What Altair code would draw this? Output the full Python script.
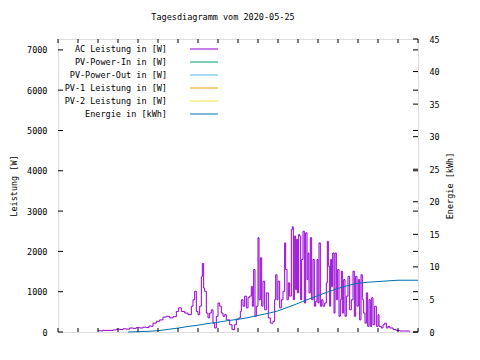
import altair as alt
import pandas as pd

# ---- data ----
ac_times = [
    "06:00", "06:15", "06:30", "06:45", "06:55", "07:05", "07:15", "07:25", "07:35", "07:45",
    "07:55", "08:05", "08:15", "08:25", "08:33", "08:40", "08:45", "08:55", "09:05", "09:15",
    "09:25", "09:35", "09:45", "09:55", "10:02", "10:10", "10:20", "10:30", "10:40", "10:45",
    "10:50", "10:55", "11:00", "11:05", "11:10", "11:13", "11:17", "11:20", "11:25", "11:30",
    "11:35", "11:40", "11:45", "11:50", "11:55", "12:00", "12:05", "12:10", "12:15", "12:20",
    "12:25", "12:35", "12:42", "12:50", "12:55", "13:03", "13:07", "13:10", "13:15", "13:20",
    "13:25", "13:30", "13:35", "13:40", "13:43", "13:47", "13:51", "13:55", "14:00", "14:03",
    "14:07", "14:11", "14:15", "14:20", "14:25", "14:31", "14:37", "14:45", "14:50", "14:53",
    "14:57", "15:00", "15:05", "15:10", "15:15", "15:20", "15:23", "15:27", "15:31", "15:35",
    "15:40", "15:43", "15:46", "15:49", "15:53", "15:56", "15:59", "16:02", "16:05", "16:08",
    "16:11", "16:15", "16:19", "16:23", "16:27", "16:30", "16:33", "16:37", "16:41", "16:45",
    "16:49", "16:53", "16:57", "17:00", "17:03", "17:07", "17:11", "17:15", "17:20", "17:25",
    "17:28", "17:31", "17:35", "17:38", "17:41", "17:44", "17:48", "17:51", "17:55", "17:59",
    "18:03", "18:07", "18:10", "18:13", "18:17", "18:21", "18:25", "18:30", "18:35", "18:40",
    "18:45", "18:49", "18:53", "18:57", "19:01", "19:05", "19:09", "19:13", "19:17", "19:21",
    "19:25", "19:29", "19:33", "19:37", "19:41", "19:45", "19:50", "19:55", "20:00", "20:03",
    "20:10", "20:15", "20:20", "20:25", "20:30", "20:35", "20:45", "20:55", "21:05", "21:20",
    "21:35",
]
ac_watts = [
    30, 40, 40, 50, 70, 60, 80, 70, 100, 90,
    110, 100, 120, 110, 150, 140, 220, 265, 300, 370,
    390, 350, 380, 510, 600, 510, 470, 430, 640, 800,
    1010, 510, 430, 640, 1370, 1700, 1090, 1010, 470, 350,
    470, 550, 220, 100, 390, 720, 640, 470, 390, 430,
    300, 180, 60, 180, 320, 350, 510, 800, 640, 890,
    600, 850, 890, 1130, 640, 1550, 390, 640, 2340, 800,
    1840, 640, 1260, 550, 970, 350, 220, 265, 800, 1420,
    800, 1260, 600, 800, 1010, 2210, 1550, 800, 1220, 890,
    2540, 2610, 800, 2380, 1050, 2300, 970, 2420, 2380, 800,
    1800, 2500, 720, 2460, 1300, 1960, 970, 2340, 800, 1800,
    640, 760, 1800, 720, 2210, 640, 800, 640, 720, 1220,
    2250, 1630, 640, 1800, 1130, 1960, 470, 1960, 800, 1550,
    390, 800, 1510, 470, 1300, 390, 890, 1380, 550, 800,
    1510, 390, 1380, 640, 1300, 300, 1420, 800, 470, 220,
    970, 140, 800, 140, 850, 180, 640, 140, 430, 140,
    100, 180, 220, 100, 140, 100, 60, 35, 25, 25,
    10,
]
energy_times = [
    "07:30", "08:30", "09:00", "09:30", "10:00", "10:30", "11:00", "11:30", "12:00", "12:30",
    "13:00", "13:30", "14:00", "14:30", "15:00", "15:30", "16:00", "16:30", "17:00", "17:30",
    "18:00", "18:30", "19:00", "19:30", "20:00", "20:30", "21:00", "22:00",
]
energy_kwh = [
    0.0, 0.1, 0.2, 0.4, 0.6, 0.85, 1.05, 1.3, 1.5, 1.75,
    1.95, 2.2, 2.55, 2.85, 3.25, 3.8, 4.4, 5.0, 5.6, 6.15,
    6.7, 7.15, 7.5, 7.65, 7.75, 7.85, 7.95, 7.95,
]
legend_labels = ["AC Leistung in [W]", "PV-Power-In in [W]", "PV-Power-Out in [W]",
                 "PV-1 Leistung in [W]", "PV-2 Leistung in [W]", "Energie in [kWh]"]
legend_colors = ["#9400d3", "#009e73", "#56b4e9", "#e69f00", "#f0e442", "#0072b2"]
x_tick_hours = list(range(4, 23))
x_label_hours = list(range(4, 23, 2))
power_ticks = [0, 1000, 2000, 3000, 4000, 5000, 6000, 7000]
energy_ticks = [0, 5, 10, 15, 20, 25, 30, 35, 40, 45]
title_text = "Tagesdiagramm vom 2020-05-25"


def to_hours(s):
    h, m = s.split(":")
    return int(h) + int(m) / 60.0


FONT = "DejaVu Sans Mono"
FS = 8.5
W, H = 360, 293
P_MAX = 7270
E_MAX = 45

ac_df = pd.DataFrame({"t": [to_hours(s) for s in ac_times], "p": ac_watts})
en_df = pd.DataFrame({"t": [to_hours(s) for s in energy_times], "e": energy_kwh})
leg_df = pd.DataFrame({"label": legend_labels, "color": legend_colors,
                       "idx": list(range(len(legend_labels)))})
xt_df = pd.DataFrame({"h": x_tick_hours})
pt_df = pd.DataFrame({"v": power_ticks})
et_df = pd.DataFrame({"v": energy_ticks})

xscale = alt.Scale(domain=[4, 22], nice=False, zero=False)
pscale = alt.Scale(domain=[0, P_MAX], nice=False)
escale = alt.Scale(domain=[0, E_MAX], nice=False)
lscale = alt.Scale(domain=[0, 5], range=[10, 75])

x_axis = alt.Axis(values=x_label_hours, tickSize=0, domain=False, grid=False,
                  labelExpr="(datum.value < 10 ? '0' : '') + datum.value + ':00'",
                  labelFont=FONT, labelFontSize=FS, labelColor="black",
                  labelPadding=8, title=None, labelFlush=False)

ac_line = alt.Chart(ac_df).mark_line(color="#9400d3", strokeWidth=1,
                                     interpolate="step-after").encode(
    x=alt.X("t:Q", scale=xscale, axis=x_axis),
    y=alt.Y("p:Q", scale=pscale,
            axis=alt.Axis(values=power_ticks, format="d", tickSize=0, domain=False,
                          grid=False, labelFont=FONT, labelFontSize=FS,
                          labelColor="black", labelPadding=11, title="Leistung [W]",
                          titleFont=FONT, titleFontSize=FS, titleFontWeight="normal",
                          titleColor="black", titlePadding=8, orient="left")),
)

en_line = alt.Chart(en_df).mark_line(color="#0072b2", strokeWidth=1).encode(
    x=alt.X("t:Q", scale=xscale),
    y=alt.Y("e:Q", scale=escale,
            axis=alt.Axis(values=energy_ticks, format="d", tickSize=0, domain=False,
                          grid=False, labelFont=FONT, labelFontSize=FS,
                          labelColor="black", labelPadding=11, title="Energie [kWh]",
                          titleFont=FONT, titleFontSize=FS, titleFontWeight="normal",
                          titleColor="black", titlePadding=15, titleAngle=270,
                          orient="right")),
)

# tick marks (inward, gnuplot style)
x_ticks_bottom = alt.Chart(xt_df).mark_rule(color="black", strokeWidth=1).encode(
    x=alt.X("h:Q", scale=xscale, axis=None),
    y=alt.value(H), y2=alt.value(H - 4),
)
x_ticks_top = alt.Chart(xt_df).mark_rule(color="black", strokeWidth=1).encode(
    x=alt.X("h:Q", scale=xscale, axis=None),
    y=alt.value(0), y2=alt.value(4),
)
p_ticks_left = alt.Chart(pt_df).mark_rule(color="black", strokeWidth=1).encode(
    y=alt.Y("v:Q", scale=pscale, axis=None),
    x=alt.value(0), x2=alt.value(5),
)
p_ticks_right = alt.Chart(pt_df).mark_rule(color="black", strokeWidth=1).encode(
    y=alt.Y("v:Q", scale=pscale, axis=None),
    x=alt.value(W - 5), x2=alt.value(W),
)
e_ticks_right = alt.Chart(et_df).mark_rule(color="black", strokeWidth=1).encode(
    y=alt.Y("v:Q", scale=escale, axis=None),
    x=alt.value(W - 5), x2=alt.value(W),
)

# legend in gnuplot style: right-aligned label then line sample
leg_text = alt.Chart(leg_df).mark_text(align="right", baseline="middle", font=FONT,
                                       fontSize=FS, color="black").encode(
    y=alt.Y("idx:Q", scale=lscale, axis=None),
    x=alt.value(109),
    text="label:N",
)
leg_line = alt.Chart(leg_df).mark_rule(strokeWidth=1).encode(
    y=alt.Y("idx:Q", scale=lscale, axis=None),
    x=alt.value(132), x2=alt.value(160),
    color=alt.Color("color:N", scale=None, legend=None),
)

chart = alt.layer(
    ac_line, en_line, x_ticks_bottom, x_ticks_top, p_ticks_left, p_ticks_right,
    e_ticks_right, leg_text, leg_line,
).resolve_scale(y="independent").properties(
    width=W, height=H,
    title=alt.TitleParams(title_text, font=FONT, fontSize=FS, fontWeight="normal",
                          color="black", offset=14, dx=-15),
    autosize=alt.AutoSizeParams(type="none"),
    padding={"left": 50, "top": 31, "right": 54, "bottom": 20},
).configure_view(stroke="black", strokeWidth=1).configure(background="white")

chart.save("out.html", embed_options={"renderer": "svg", "actions": False})
